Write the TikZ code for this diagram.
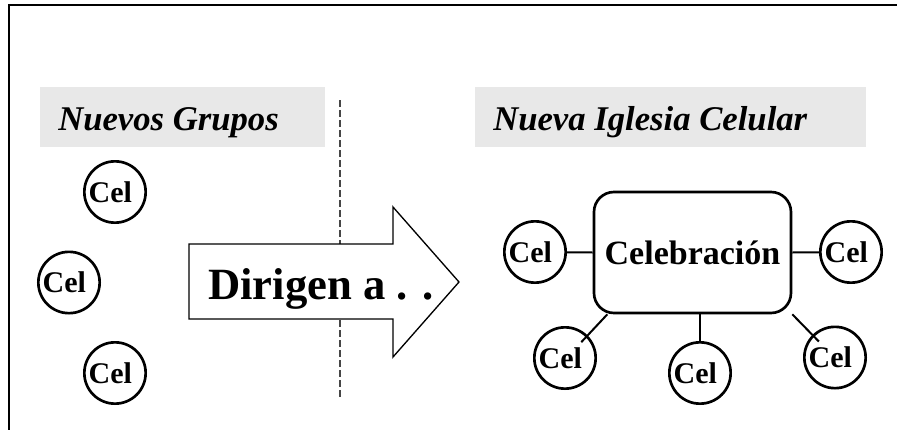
\documentclass[tikz,border=0pt]{standalone}
\usepackage{fontspec}
\setmainfont{Liberation Serif}

\definecolor{titlegray}{RGB}{232,232,232}
\definecolor{dashgray}{RGB}{70,70,70}

\tikzset{
    cel/.style={circle, draw, line width=2pt, minimum size=46pt, inner sep=0pt,
        font=\fontsize{22.5}{24}\selectfont\bfseries},
    titlebox/.style={fill=titlegray, anchor=north west, inner sep=0pt},
    titletext/.style={anchor=base west, inner sep=0pt,
        font=\fontsize{26}{28}\selectfont\bfseries\itshape},
    link/.style={line width=1.5pt}
}

\begin{document}
\begin{tikzpicture}[x=0.75pt, y=-0.75pt]
    \useasboundingbox (0,0) rectangle (897,429);
    % Frame
    \draw[line width=2pt] (9,432) -- (9,5) -- (900,5);
    % Titles
    \node[titlebox, minimum width=213.75pt, minimum height=45pt] (grupobox) at (40,87) {};
    \node[titletext] (grupos) at (58,130) {Nuevos Grupos};
    \node[titlebox, minimum width=293.25pt, minimum height=45pt] (iglesiabox) at (475,87) {};
    \node[titletext] (iglesia) at (493,130) {Nueva Iglesia Celular};
    % Divider
    \coordinate (dtop) at (340,100);
    \coordinate (dbot) at (340,398);
    \draw[dashgray, line width=1pt, dash pattern=on 5pt off 2.5pt] (dtop) -- (dbot);
    % Arrow
    \draw[line width=1pt, fill=white, line join=miter]
        (189,244) -- (393,244) -- (393,207) -- (459,282)
        -- (393,357) -- (393,319) -- (189,319) -- cycle;
    \node[anchor=base west, inner sep=0pt, font=\fontsize{33.5}{36}\selectfont\bfseries]
        (dirigen) at (208,299) {Dirigen a . .};
    % New groups
    \node[cel] (g1) at (115,192) {Cel\kern7pt};
    \node[cel] (g2) at (69,282.5) {Cel\kern7pt};
    \node[cel] (g3) at (115,373) {Cel\kern7pt};
    % Cell church
    \node[draw, line width=2pt, rounded corners=15pt, minimum width=147.75pt,
        minimum height=90.75pt, inner sep=0pt,
        font=\fontsize{25.5}{27}\selectfont\bfseries] (celeb) at (692.5,252.5) {Celebración};
    \node[cel] (r1) at (535,252) {Cel\kern7pt};
    \node[cel] (r2) at (851,252) {Cel\kern7pt};
    \node[cel] (r3) at (565,358) {Cel\kern7pt};
    \node[cel] (r4) at (700,373) {Cel\kern7pt};
    \node[cel] (r5) at (835,357.5) {Cel\kern7pt};
    % Links
    \draw[link] (celeb.west) -- (r1);
    \draw[link] (celeb.east) -- (r2);
    \draw[link] (celeb.south -| r4) -- (r4);
    \draw[link, shorten >=-7pt] ([xshift=11pt]celeb.south west) -- (r3.north east);
    \draw[link, shorten >=-7pt] (celeb.south east) -- (r5.north west);
\end{tikzpicture}
\end{document}
